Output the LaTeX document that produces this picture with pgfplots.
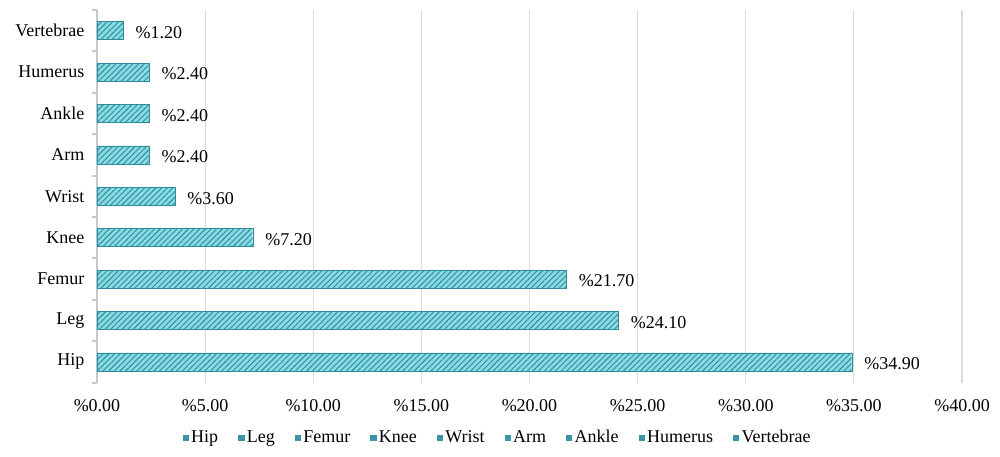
\documentclass[border=0pt]{standalone}
\usepackage{pgfplots}
\pgfplotsset{compat=1.18}
\usepackage{pgfplotstable}
\usetikzlibrary{patterns.meta}
\usepackage{fontspec}
\setmainfont{Liberation Serif}
\definecolor{barfill}{HTML}{8ADAE3}
\definecolor{barline}{HTML}{2B8C9C}
\definecolor{legsq}{HTML}{3A93A8}
\definecolor{gridc}{HTML}{DCDCDC}
\definecolor{axc}{HTML}{C3CACA}
\pgfplotstableread{
x y lab
34.9 0 34.90
24.1 1 24.10
21.7 2 21.70
7.2 3 7.20
3.6 4 3.60
2.4 5 2.40
2.4 6 2.40
2.4 7 2.40
1.2 8 1.20
}\data
\begin{document}
\begin{tikzpicture}
\begin{axis}[
  scale only axis,
  width=648.75pt, height=279.45pt,
  xmin=0, xmax=40, ymin=-0.5, ymax=8.5,
  font=\fontsize{13.5}{16}\selectfont,
  axis y line*=left, axis x line*=bottom,
  x axis line style={draw=none},
  y axis line style={draw=axc, line width=1.5pt},
  xtick={0,5,...,40},
  xticklabels={\%0.00,\%5.00,\%10.00,\%15.00,\%20.00,\%25.00,\%30.00,\%35.00,\%40.00},
  xticklabel style={yshift=-9pt},
  ytick={0,...,8},
  yticklabels={Hip,Leg,Femur,Knee,Wrist,Arm,Ankle,Humerus,Vertebrae},
  yticklabel style={xshift=-6pt},
  minor ytick={-0.5,0.5,...,8.5},
  major tick length=0pt,
  minor tick length=4pt,
  tick align=outside,
  minor tick style={draw=axc, line width=1.5pt},
  xmajorgrids, grid style={draw=gridc, line width=0.8pt},
  clip=false,
  legend style={draw=none, at={(0.4636,-0.1476)}, anchor=center,
    legend columns=9, font=\fontsize{13.5}{16}\selectfont,
    /tikz/every even column/.append style={column sep=13pt}},
  legend image code/.code={\fill[#1] (0pt,-2pt) rectangle (4pt,2pt);},
]
\addplot[xbar, bar width=13.5pt, bar shift=0pt,
  forget plot, fill=barfill, draw=barline, line width=0.3pt,
  postaction={pattern={Lines[angle=45,distance=3pt,line width=0.7pt]}, pattern color=barline},
  nodes near coords={\%\pgfplotspointmeta},
  point meta=explicit symbolic,
  nodes near coords style={anchor=west, xshift=6pt, yshift=-1.5pt, text=black, font=\fontsize{13.5}{16}\selectfont}
] table[x=x, y=y, meta=lab] {\data};
\addlegendimage{legsq, fill=legsq}\addlegendentry{Hip}
\addlegendimage{legsq, fill=legsq}\addlegendentry{Leg}
\addlegendimage{legsq, fill=legsq}\addlegendentry{Femur}
\addlegendimage{legsq, fill=legsq}\addlegendentry{Knee}
\addlegendimage{legsq, fill=legsq}\addlegendentry{Wrist}
\addlegendimage{legsq, fill=legsq}\addlegendentry{Arm}
\addlegendimage{legsq, fill=legsq}\addlegendentry{Ankle}
\addlegendimage{legsq, fill=legsq}\addlegendentry{Humerus}
\addlegendimage{legsq, fill=legsq}\addlegendentry{Vertebrae}
\path (rel axis cs:0,0) coordinate (sw);
\end{axis}
\path (sw) ++(-72.75pt,-55.875pt) rectangle ++(750pt,342.75pt);
\end{tikzpicture}
\end{document}
